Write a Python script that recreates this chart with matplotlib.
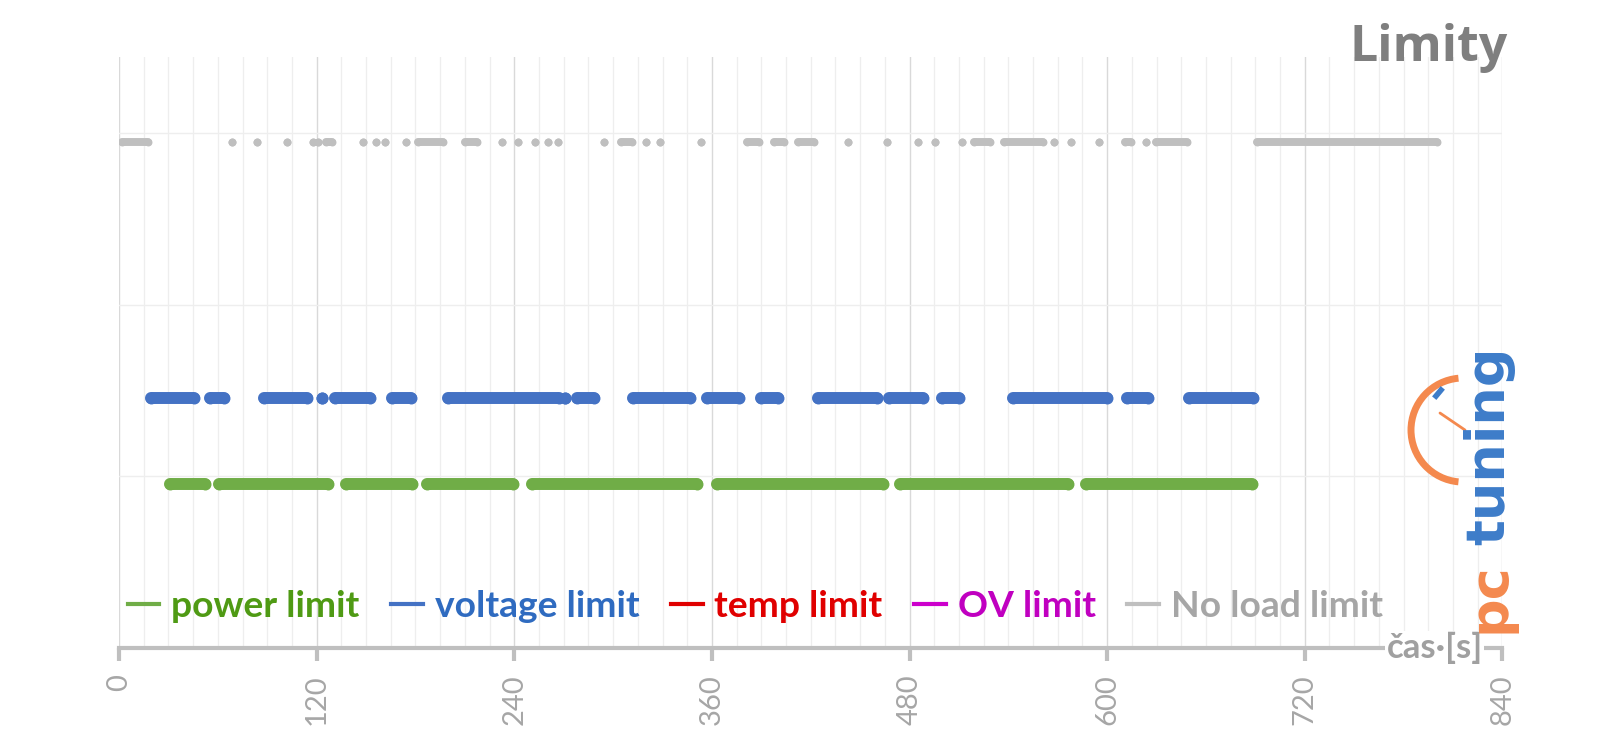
import matplotlib.pyplot as plt
from matplotlib.patches import Arc
from matplotlib.lines import Line2D
import numpy as np

# runs of samples (start, end) in seconds where each limit is active
green_runs = [(31, 52), (61, 127), (138, 178), (187, 239), (251, 351),
              (363, 464), (474, 576), (587, 688)]
blue_runs = [(19.6, 45.4), (55, 64), (88, 114), (123, 123), (131, 152.6),
             (165.6, 177), (199.5, 267), (271, 271), (278, 288.6), (312, 346.5),
             (356.8, 376.3), (390, 400), (424.5, 460), (467.7, 488.2), (499.5, 510),
             (543, 600), (612, 624.5), (650, 688.5)]
grey_runs = [(2, 17.5), (68.7, 68.7), (84, 84), (101.7, 101.7), (118, 118),
             (121, 121), (125.6, 129.4), (148, 148), (155.8, 155.8), (161.7, 161.7),
             (174, 174), (181.4, 196.5), (209.8, 217.5), (232.4, 232.4),
             (242.3, 242.3), (252.4, 252.4), (260.5, 260.5), (266.5, 266.5),
             (294.2, 294.2), (305.1, 311.2), (319.8, 319.8), (328.4, 328.4),
             (353.5, 353.5), (381.2, 388.5), (398, 403.8), (412.5, 421.9),
             (442.5, 442.5), (466.3, 466.3), (485.2, 485.2), (495.4, 495.4),
             (511.7, 511.7), (519.2, 528.8), (537.5, 560.8), (568, 568),
             (578.2, 578.2), (594.8, 594.8), (610.8, 614.5), (623.8, 623.8),
             (629.9, 648.5), (691, 800.5)]

levels = {'power': 0.955, 'voltage': 1.455, 'noload': 2.95}

labels = ['power limit', 'voltage limit', 'temp limit', 'OV limit', 'No load limit']
line_colors = ['#70ad47', '#4472c4', '#e00000', '#cc00cc', '#bfbfbf']
text_colors = ['#4f9a14', '#2f6bc0', '#e00000', '#c000c0', '#a6a6a6']

xticks = np.arange(0, 841, 120)

fig = plt.figure(figsize=(16, 7.45), dpi=100)
ax = fig.add_axes([0.0744, 0.130, 0.8646, 0.793])

def draw_runs(runs, y, color, w):
    for s, e in runs:
        ax.plot([s, e], [y, y], color=color, lw=w, solid_capstyle='round',
                marker='o', ms=w, mew=0, zorder=3)

draw_runs(green_runs, levels['power'], line_colors[0], 8.6)
draw_runs(blue_runs, levels['voltage'], line_colors[1], 8.6)
draw_runs(grey_runs, levels['noload'], line_colors[4], 5.7)

ax.set_xlim(0, 840)
ax.set_ylim(0, 3.44)
ax.set_xticks(xticks)
ax.set_xticks(np.arange(0, 841, 15), minor=True)
ax.set_yticks([1, 2, 3])
ax.set_yticklabels([])
ax.tick_params(axis='y', length=0)
ax.grid(True, which='major', axis='x', color='#d9d9d9', lw=1.0)
ax.grid(True, which='minor', axis='x', color='#eeeeee', lw=0.9)
ax.grid(True, which='major', axis='y', color='#eeeeee', lw=1.0)
ax.set_axisbelow(True)
for s in ['top', 'right', 'left']:
    ax.spines[s].set_visible(False)
ax.spines['bottom'].set_color('#bfbfbf')
ax.spines['bottom'].set_linewidth(3)
ax.tick_params(axis='x', which='major', length=9, width=3, color='#bfbfbf',
               labelsize=21, labelcolor='#a6a6a6', labelrotation=90, pad=10)
ax.tick_params(axis='x', which='minor', length=0)
for t in ax.get_xticklabels():
    t.set_fontfamily('Lato')

# legend
handles = [Line2D([], [], color=c, lw=3) for c in line_colors]
leg = ax.legend(handles, labels, loc='lower left', bbox_to_anchor=(-0.018, -0.014),
                ncol=5, frameon=False, handlelength=0.85, handletextpad=0.32,
                columnspacing=0.85, prop={'family': 'Lato', 'weight': 'bold', 'size': 26.8})
for t, c in zip(leg.get_texts(), text_colors):
    t.set_color(c)

ax.text(828, 0, 'čas·[s]', ha='right', va='center', fontsize=25, fontweight='bold',
        family='Lato', color='#a0a0a0',
        bbox=dict(facecolor='white', edgecolor='none', pad=1))

fig.text(0.9425, 0.935, 'Limity', ha='right', va='center', fontsize=36,
         fontweight='bold', family='Open Sans', color='#7f7f7f')

# pctuning logo
lax = fig.add_axes([0.875, 0.1275, 0.075, 0.4295])
lax.set_xlim(1400, 1520)
lax.set_ylim(650, 330)
lax.axis('off')
lax.add_patch(Arc((1463, 430), 104, 104, theta1=95, theta2=265, color='#f4894e', lw=5))
lax.plot([1465, 1440], [430, 413], color='#f4894e', lw=2, solid_capstyle='round')
lax.plot([1436, 1441], [396, 390], color='#3d7cc9', lw=4)
lax.text(1489, 446, 'tuning', rotation=90, ha='center', va='center', fontsize=39,
         fontweight='bold', color='#3d7cc9')
lax.text(1489, 598, 'pc', rotation=90, ha='center', va='center', fontsize=39,
         fontweight='bold', color='#f4894e')

fig.savefig('out.png', dpi=100, facecolor='white')
